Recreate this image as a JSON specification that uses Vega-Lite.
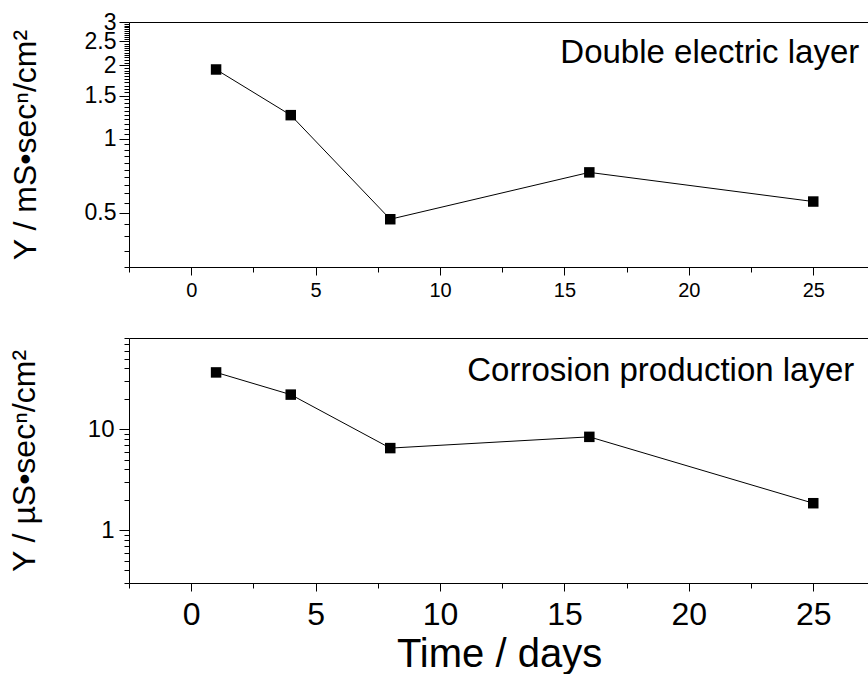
{
  "$schema": "https://vega.github.io/schema/vega-lite/v6.json",
  "padding": {"left": 8, "top": 11, "right": 0, "bottom": 0},
  "background": "white",
  "spacing": 71,
  "bounds": "flush",
  "config": {
    "font": "Liberation Sans",
    "view": {"stroke": null},
    "axis": {
      "grid": false,
      "domainColor": "black",
      "tickColor": "black",
      "labelColor": "black",
      "titleColor": "black",
      "labelFont": "Liberation Sans",
      "titleFont": "Liberation Sans",
      "titleFontWeight": "normal",
      "labelOverlap": false,
      "labelBound": false,
      "labelFlush": false
    }
  },
  "vconcat": [
    {
      "width": 740,
      "height": 245,
      "data": {"values": [
        {"day": 1, "y": 1.92},
        {"day": 4, "y": 1.25},
        {"day": 8, "y": 0.47},
        {"day": 16, "y": 0.73},
        {"day": 25, "y": 0.555}
      ]},
      "resolve": {"axis": {"x": "independent", "y": "independent"}},
      "layer": [
        {
          "encoding": {
            "x": {
              "field": "day", "type": "quantitative",
              "scale": {"domain": [-2.5, 27.24], "nice": false, "zero": false},
              "axis": {
                "title": null,
                "values": [-2.5, 0, 2.5, 5, 7.5, 10, 12.5, 15, 17.5, 20, 22.5, 25],
                "labelExpr": "datum.value % 5 === 0 ? datum.label : ''",
                "tickSize": {"condition": {"test": "datum.value % 5 === 0", "value": 8}, "value": 5},
                "labelFontSize": 20,
                "labelPadding": 5
              }
            },
            "y": {
              "field": "y", "type": "quantitative",
              "scale": {"type": "log", "domain": [0.3, 3], "nice": false},
              "axis": {
                "title": "Y / mS•secⁿ/cm²",
                "titleFontSize": 32,
                "titlePadding": 42,
                "format": "~g",
                "values": [0.3, 0.35, 0.4, 0.45, 0.5, 0.55, 0.6, 0.65, 0.7, 0.75, 0.8, 0.85, 0.9, 0.95, 1, 1.05, 1.1, 1.15, 1.2, 1.25, 1.3, 1.35, 1.4, 1.45, 1.5, 1.55, 1.6, 1.65, 1.7, 1.75, 1.8, 1.85, 1.9, 1.95, 2, 2.05, 2.1, 2.15, 2.2, 2.25, 2.3, 2.35, 2.4, 2.45, 2.5, 2.55, 2.6, 2.65, 2.7, 2.75, 2.8, 2.85, 2.9, 2.95, 3],
                "labelExpr": "indexof([0.5, 1, 1.5, 2, 2.5, 3], datum.value) >= 0 ? datum.label : ''",
                "tickSize": {"condition": {"test": "indexof([0.5, 1, 1.5, 2, 2.5, 3], datum.value) >= 0", "value": 10}, "value": 5},
                "labelFontSize": 23,
                "labelPadding": 3
              }
            }
          },
          "layer": [
            {"mark": {"type": "line", "color": "black", "strokeWidth": 1}},
            {"mark": {"type": "point", "shape": "square", "filled": true, "color": "black", "opacity": 1, "size": 110}}
          ]
        },
        {
          "data": {"values": [{"day": 26.85, "y": 2.04, "label": "Double electric layer"}]},
          "mark": {"type": "text", "align": "right", "baseline": "alphabetic", "fontSize": 33, "font": "Liberation Sans", "color": "black"},
          "encoding": {
            "x": {
              "field": "day", "type": "quantitative",
              "scale": {"domain": [-2.5, 27.24], "nice": false, "zero": false},
              "axis": {"orient": "top", "labels": false, "ticks": false, "title": null, "domain": true}
            },
            "y": {
              "field": "y", "type": "quantitative",
              "scale": {"type": "log", "domain": [0.3, 3], "nice": false},
              "axis": null
            },
            "text": {"field": "label", "type": "nominal"}
          }
        }
      ]
    },
    {
      "width": 740,
      "height": 245,
      "data": {"values": [
        {"day": 1, "y": 36.5},
        {"day": 4, "y": 22},
        {"day": 8, "y": 6.5},
        {"day": 16, "y": 8.4},
        {"day": 25, "y": 1.85}
      ]},
      "resolve": {"axis": {"x": "independent", "y": "independent"}},
      "layer": [
        {
          "encoding": {
            "x": {
              "field": "day", "type": "quantitative",
              "scale": {"domain": [-2.5, 27.24], "nice": false, "zero": false},
              "axis": {
                "title": "Time / days",
                "titleFontSize": 40,
                "titlePadding": 4,
                "values": [-2.5, 0, 2.5, 5, 7.5, 10, 12.5, 15, 17.5, 20, 22.5, 25],
                "labelExpr": "datum.value % 5 === 0 ? datum.label : ''",
                "tickSize": {"condition": {"test": "datum.value % 5 === 0", "value": 8}, "value": 5},
                "labelFontSize": 32,
                "labelPadding": 8
              }
            },
            "y": {
              "field": "y", "type": "quantitative",
              "scale": {"type": "log", "domain": [0.3, 80], "nice": false},
              "axis": {
                "title": "Y / µS•secⁿ/cm²",
                "titleFontSize": 32,
                "titlePadding": 46,
                "format": "~g",
                "values": [0.3, 0.4, 0.5, 0.6, 0.7, 0.8, 0.9, 1, 2, 3, 4, 5, 6, 7, 8, 9, 10, 20, 30, 40, 50, 60, 70, 80],
                "labelExpr": "indexof([1, 10], datum.value) >= 0 ? datum.label : ''",
                "tickSize": {"condition": {"test": "indexof([1, 10], datum.value) >= 0", "value": 10}, "value": 5},
                "labelFontSize": 24,
                "labelPadding": 5
              }
            }
          },
          "layer": [
            {"mark": {"type": "line", "color": "black", "strokeWidth": 1}},
            {"mark": {"type": "point", "shape": "square", "filled": true, "color": "black", "opacity": 1, "size": 110}}
          ]
        },
        {
          "data": {"values": [{"day": 26.65, "y": 30, "label": "Corrosion production layer"}]},
          "mark": {"type": "text", "align": "right", "baseline": "alphabetic", "fontSize": 33, "font": "Liberation Sans", "color": "black"},
          "encoding": {
            "x": {
              "field": "day", "type": "quantitative",
              "scale": {"domain": [-2.5, 27.24], "nice": false, "zero": false},
              "axis": {"orient": "top", "labels": false, "ticks": false, "title": null, "domain": true}
            },
            "y": {
              "field": "y", "type": "quantitative",
              "scale": {"type": "log", "domain": [0.3, 80], "nice": false},
              "axis": null
            },
            "text": {"field": "label", "type": "nominal"}
          }
        }
      ]
    }
  ]
}
